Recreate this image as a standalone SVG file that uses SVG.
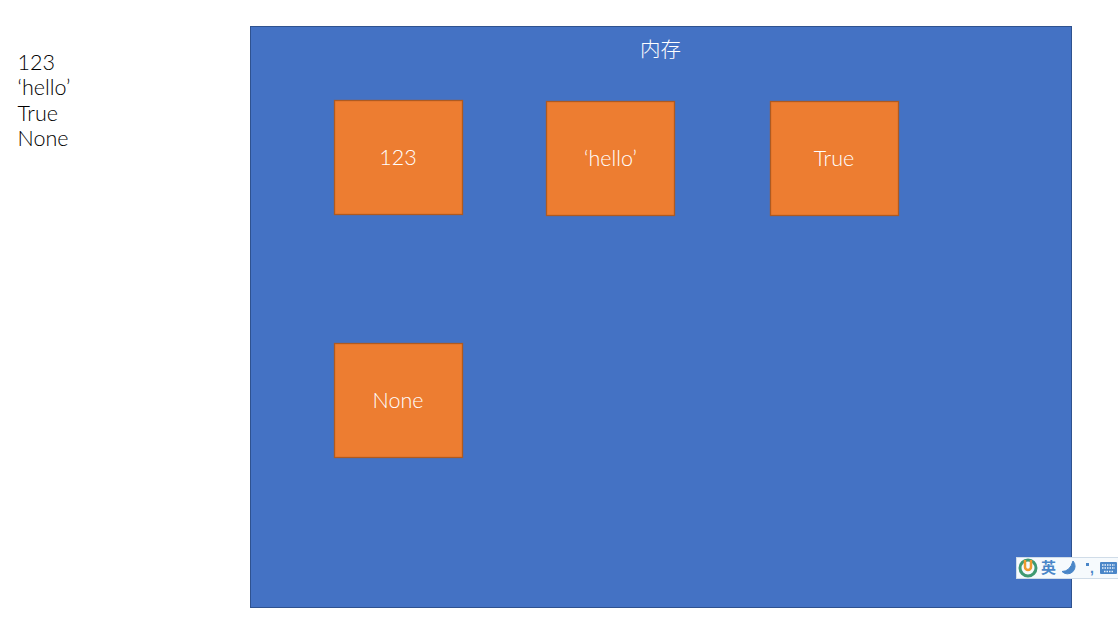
<svg xmlns="http://www.w3.org/2000/svg" width="1118" height="628" viewBox="0 0 1118 628">
<style>
text{font-family:"Lato","Liberation Sans","Noto Sans CJK SC",sans-serif;font-size:21.500px;font-weight:300}
.w{fill:#fff;text-anchor:middle}
.b{fill:#000}
.box{fill:#ed7d31;stroke:#ae5a21;stroke-width:1.3}
</style>
<rect width="1118" height="628" fill="#fff"/>
<g id="code">
<text class="b" x="17.500" y="70">123</text>
<text class="b" x="17.500" y="95">‘hello’</text>
<text class="b" x="17.500" y="121">True</text>
<text class="b" x="17.500" y="146">None</text>
</g>
<g id="memory">
<rect x="250.500" y="26.500" width="821" height="581" fill="#4472c4" stroke="#2f528f" stroke-width="1"/>
<text class="w" x="660.500" y="57" style="font-family:'Noto Sans CJK SC',sans-serif;font-size:20.500px;font-weight:300">内存</text>
</g>
<g id="node-123"><rect class="box" x="334.500" y="100.500" width="128" height="114"/><text class="w" x="398" y="165">123</text></g>
<g id="node-hello"><rect class="box" x="546.500" y="101.500" width="128" height="114"/><text class="w" x="610.500" y="166">‘hello’</text></g>
<g id="node-true"><rect class="box" x="770.500" y="101.500" width="128" height="114"/><text class="w" x="834" y="166">True</text></g>
<g id="node-none"><rect class="box" x="334.500" y="343.500" width="128" height="114"/><text class="w" x="398" y="408">None</text></g>
<g id="ime">
<rect x="1016.500" y="557.500" width="102" height="21" fill="#f6fafd" stroke="#d0dce8"/>
<circle cx="1028" cy="568" r="8" fill="none" stroke="#3f9a72" stroke-width="3"/>
<path d="M1025 560v7a3 3 0 0 0 6 0v-7" fill="none" stroke="#ef9a2d" stroke-width="2.500"/>
<text x="1041" y="573" style="font-family:'Noto Sans CJK SC',sans-serif;font-size:15px;font-weight:700;fill:#4a86c8">英</text>
<path d="M1073 561a7 7 0 1 1-11 10.500q8 0 11-10.500z" fill="#4a86c8" stroke="#4a86c8" stroke-width="1"/>
<rect x="1086" y="563" width="3" height="3" fill="#4a86c8"/>
<text x="1090" y="573" style="font-family:'Liberation Sans',sans-serif;font-size:14px;font-weight:700;fill:#4a86c8">,</text>
<rect x="1100" y="562" width="17" height="12" rx="1" fill="#4a86c8"/>
<path d="M1102 565h13M1102 568h13M1104 571.500h9" stroke="#e8f1fa" stroke-width="1.300" stroke-dasharray="1.500 1"/>
</g>
</svg>
